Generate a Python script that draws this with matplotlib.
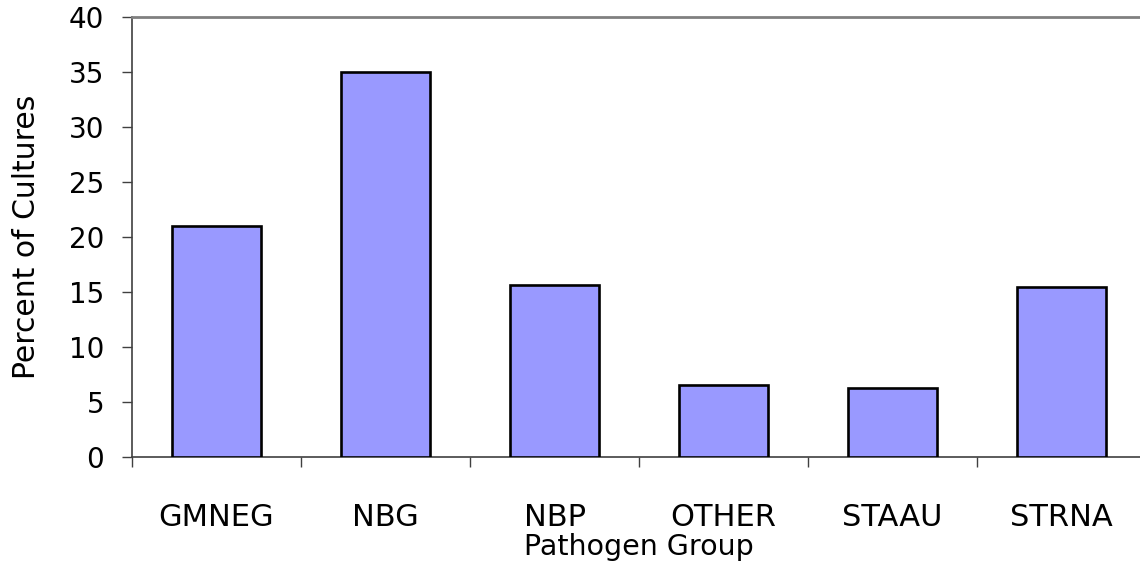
import matplotlib.pyplot as plt
import numpy as np

# pathogen groups and percent of cultures
groups = ['GMNEG', 'NBG', 'NBP', 'OTHER', 'STAAU', 'STRNA']
percent = [21.0, 35.0, 15.65, 6.55, 6.3, 15.45]
yticks = [0, 5, 10, 15, 20, 25, 30, 35, 40]

plt.rcParams['font.family'] = ['DejaVu Sans']

fig = plt.figure(figsize=(11.4, 5.73), dpi=100)
ax = fig.add_axes([0.1158, 0.2024, 0.8895, 0.768])

x = np.arange(len(groups))
ax.bar(x, percent, width=0.53, color='#9999ff', edgecolor='black', linewidth=1.9, zorder=3)

ax.set_xlim(-0.5, len(groups) - 0.5)
ax.set_ylim(0, 40)
ax.set_yticks(yticks)
ax.tick_params(axis='y', labelsize=20, length=7, width=1, color='#404040', pad=13)

# category labels centred, ticks on boundaries
ax.set_xticks(x)
ax.set_xticklabels(groups, fontsize=22)
ax.tick_params(axis='x', which='major', length=0, pad=33)
ax.set_xticks(np.arange(len(groups) + 1) - 0.5, minor=True)
ax.tick_params(axis='x', which='minor', length=7, width=1, color='#404040')

for s in ['left', 'bottom']:
    ax.spines[s].set_color('#404040')
    ax.spines[s].set_linewidth(1.2)
ax.spines['top'].set_color('#808080')
ax.spines['top'].set_linewidth(2)
ax.spines['right'].set_visible(False)

ax.set_ylabel('Percent of Cultures', fontsize=21.5, labelpad=20)
ax.set_xlabel('Pathogen Group', fontsize=20.5, labelpad=1)

fig.savefig('out.png', dpi=100)
